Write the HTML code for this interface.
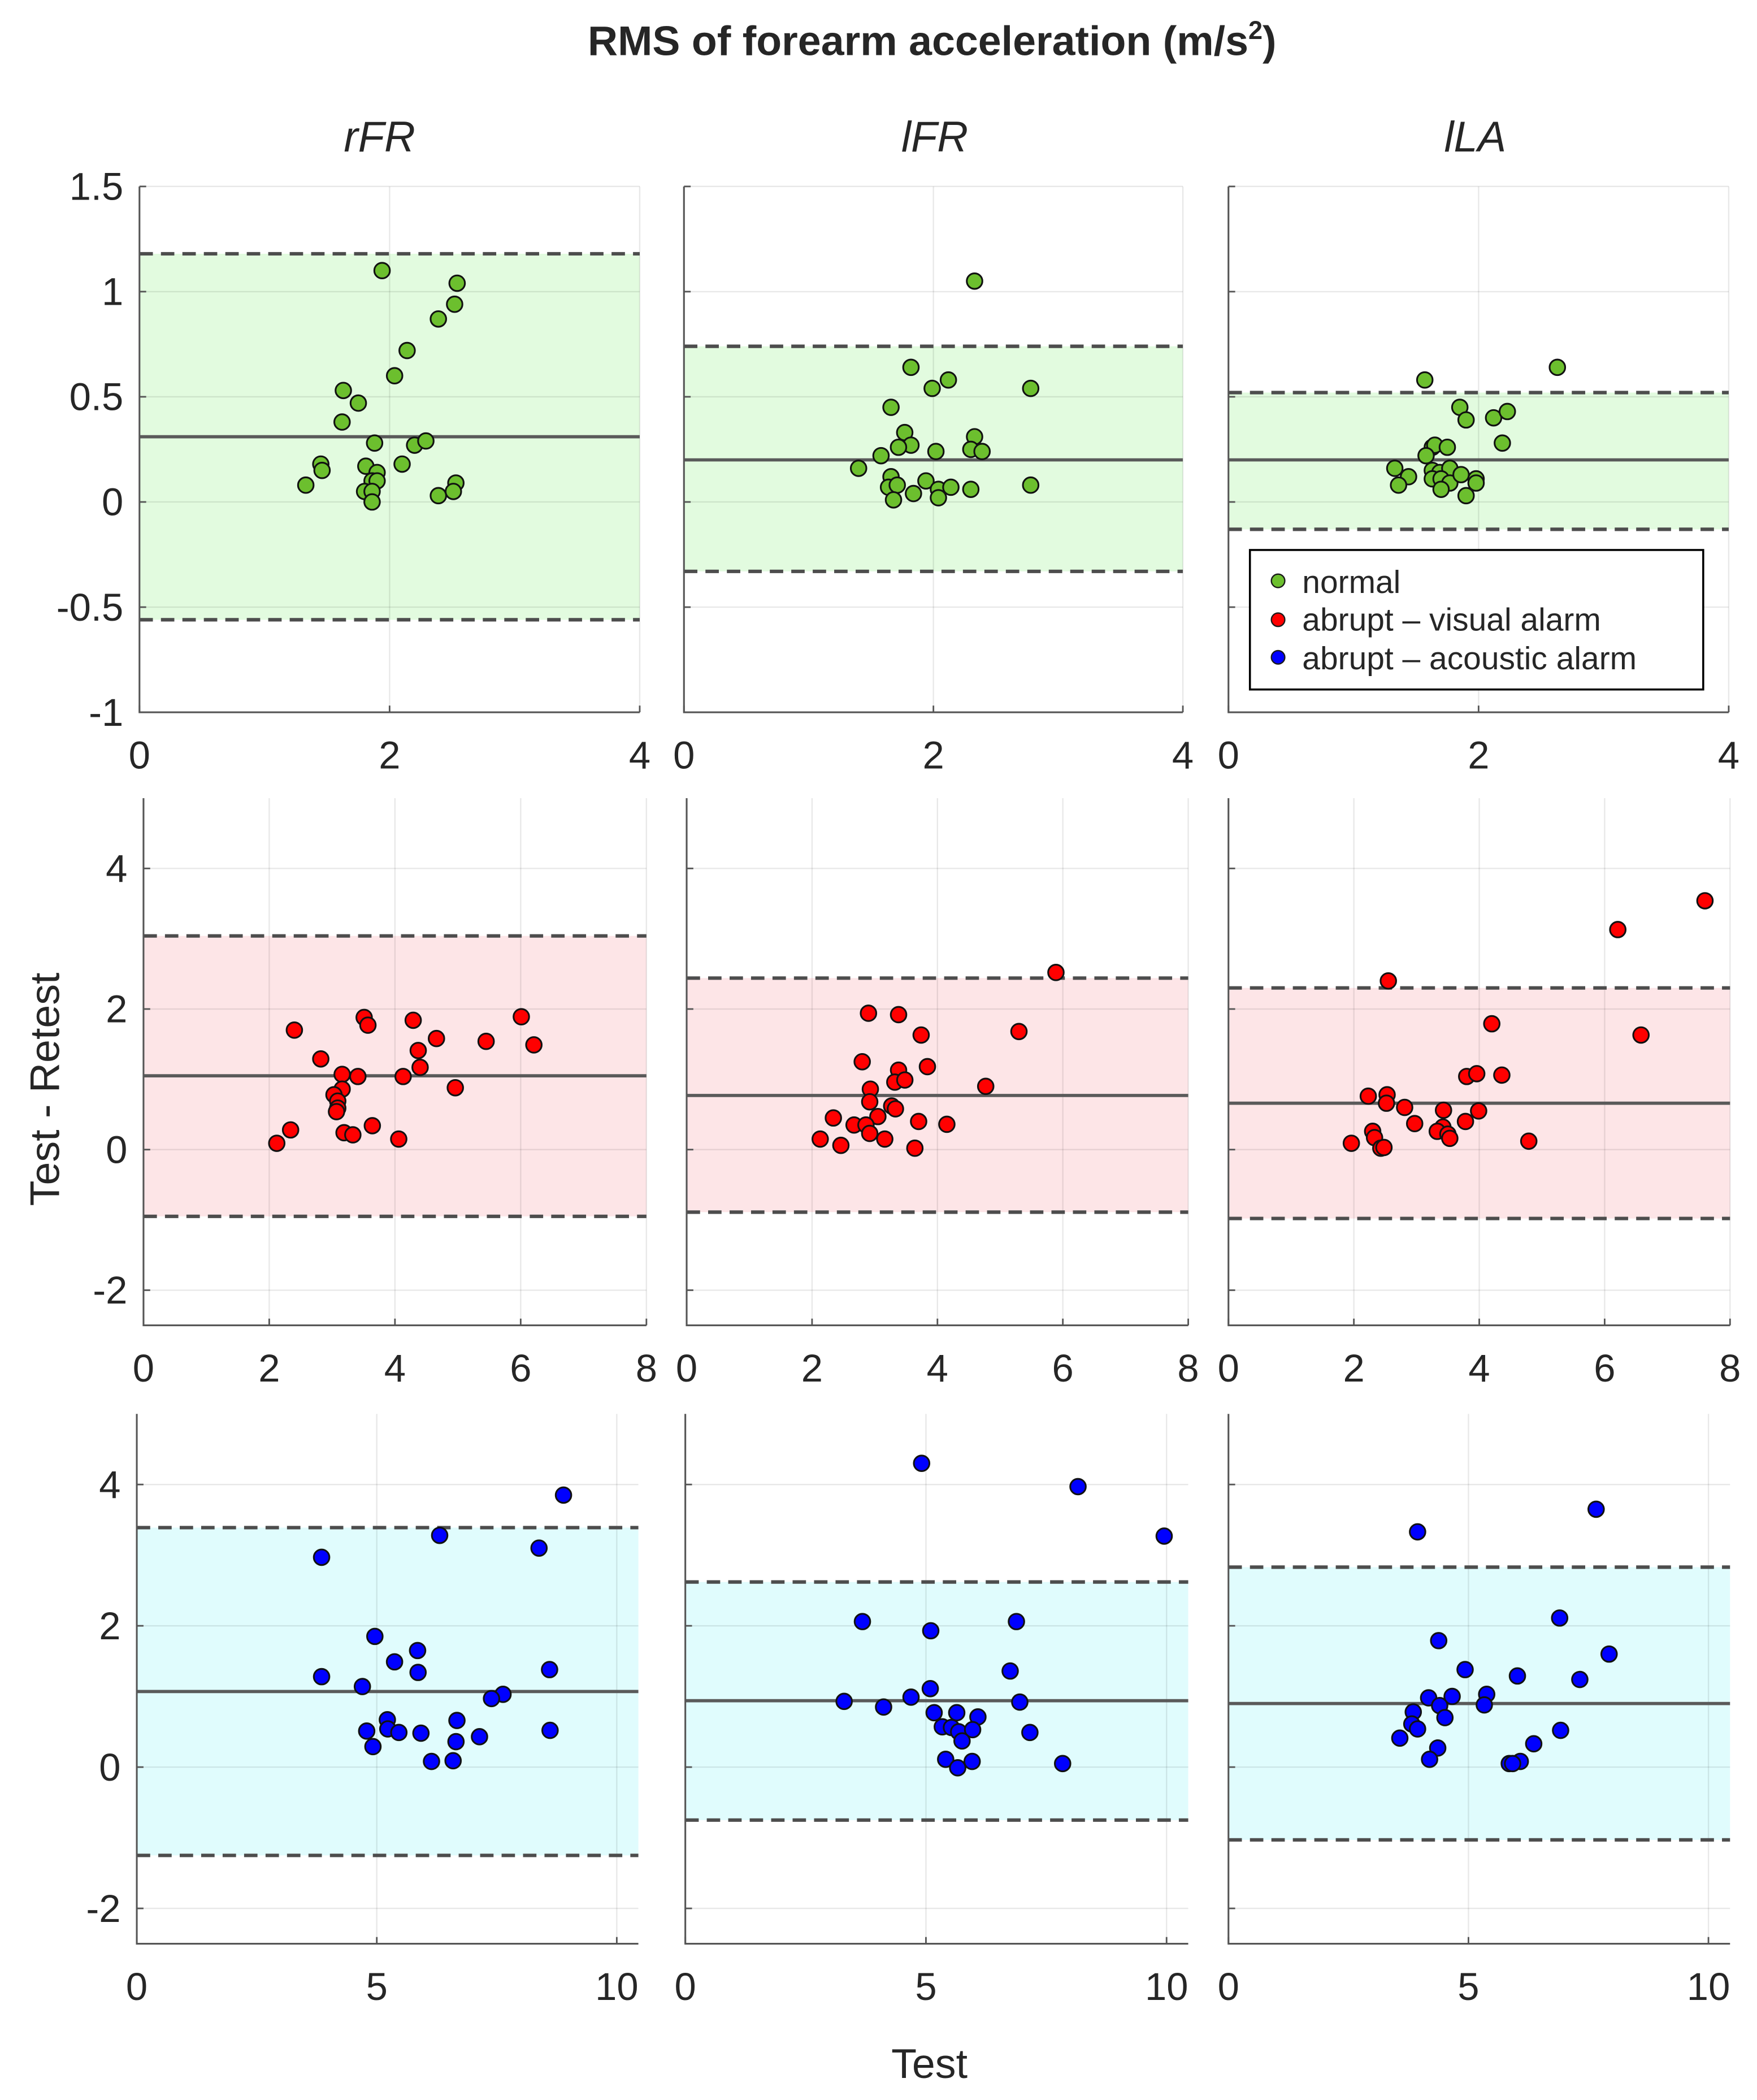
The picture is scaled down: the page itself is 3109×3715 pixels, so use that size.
<!DOCTYPE html>
<html><head><meta charset="utf-8"><style>
html,body{margin:0;padding:0;background:#fff;}
svg{display:block;}
text{font-family:"Liberation Sans",Arial,sans-serif;fill:#262626;}
</style></head>
<body>
<svg id="chart" xmlns="http://www.w3.org/2000/svg" width="3109" height="3715" viewBox="0 0 1310.1 1565.5" preserveAspectRatio="none">
<text x="695" y="41" text-anchor="middle" font-size="31" font-weight="bold" fill="#000">RMS of forearm acceleration (m/s<tspan font-size="19" dy="-12">2</tspan><tspan dy="12">)</tspan></text>
<text x="283" y="113" text-anchor="middle" font-size="32" font-style="italic">rFR</text>
<text x="697" y="113" text-anchor="middle" font-size="32" font-style="italic">lFR</text>
<text x="1100" y="113" text-anchor="middle" font-size="32" font-style="italic">lLA</text>
<text x="0" y="0" transform="translate(44,812) rotate(-90)" text-anchor="middle" font-size="31">Test - Retest</text>
<text x="693" y="1549" text-anchor="middle" font-size="31">Test</text>
<g id="panels"></g>
<g id="legend">
<rect x="932" y="410" width="338" height="104" fill="#fff" stroke="#000" stroke-width="1.5"/>
<circle cx="953" cy="433" r="5" fill="#6cbf2e" stroke="#1a1a1a" stroke-width="1"/>
<text x="971" y="442" font-size="24" fill="#000">normal</text>
<circle cx="953" cy="462" r="5" fill="#ff0000" stroke="#1a1a1a" stroke-width="1"/>
<text x="971" y="470" font-size="24" fill="#000">abrupt – visual alarm</text>
<circle cx="953" cy="490" r="5" fill="#0000ff" stroke="#1a1a1a" stroke-width="1"/>
<text x="971" y="499" font-size="24" fill="#000">abrupt – acoustic alarm</text>
</g>
</svg>
<script>
// ---- data ----
const p1x=[1.94,2.54,2.52,2.39,2.14,2.04,1.63,1.75,1.62,1.88,2.20,2.29,1.45,1.46,1.81,1.90,2.10,1.33,1.86,1.90,1.80,1.86,1.86,2.39,2.53,2.51];
const p1y=[1.10,1.04,0.94,0.87,0.72,0.60,0.53,0.47,0.38,0.28,0.27,0.29,0.18,0.15,0.17,0.14,0.18,0.08,0.10,0.10,0.05,0.05,0.00,0.03,0.09,0.05];
const p2x=[2.33,1.82,2.12,1.99,2.78,1.66,1.77,1.82,1.72,2.33,2.30,2.39,2.02,1.58,1.40,1.66,1.64,1.71,1.94,1.84,2.04,2.14,2.30,2.78,1.68,2.04];
const p2y=[1.05,0.64,0.58,0.54,0.54,0.45,0.33,0.27,0.26,0.31,0.25,0.24,0.24,0.22,0.16,0.12,0.07,0.08,0.10,0.04,0.06,0.07,0.06,0.08,0.01,0.02];
const p3x=[2.63,1.57,1.85,1.90,2.12,2.23,2.19,1.63,1.65,1.75,1.58,1.33,1.44,1.36,1.63,1.69,1.77,1.63,1.70,1.77,1.70,1.86,1.98,1.98,1.90];
const p3y=[0.64,0.58,0.45,0.39,0.40,0.43,0.28,0.26,0.27,0.26,0.22,0.16,0.12,0.08,0.15,0.14,0.16,0.11,0.11,0.09,0.06,0.13,0.11,0.09,0.03];
const p4x=[2.40,3.51,3.57,4.29,6.01,4.66,5.45,6.21,4.37,2.82,4.40,3.16,3.41,4.13,4.96,3.16,3.03,3.09,3.09,3.07,2.34,2.12,3.19,3.33,3.64,4.06];
const p4y=[1.70,1.88,1.77,1.84,1.89,1.58,1.54,1.49,1.41,1.29,1.17,1.07,1.04,1.04,0.88,0.86,0.78,0.69,0.59,0.54,0.28,0.09,0.24,0.21,0.34,0.15];
const p5x=[5.89,2.90,3.38,3.74,5.30,2.80,3.84,3.38,3.32,3.48,4.77,2.93,2.92,3.27,3.33,3.05,2.34,3.70,4.15,2.67,2.86,2.92,2.13,3.16,2.46,3.64];
const p5y=[2.52,1.94,1.92,1.63,1.68,1.25,1.18,1.13,0.96,0.99,0.90,0.86,0.68,0.62,0.58,0.47,0.45,0.40,0.36,0.35,0.35,0.23,0.15,0.15,0.06,0.02];
const p6x=[7.60,6.21,2.55,4.20,6.58,3.80,3.96,4.36,2.23,2.53,2.52,2.81,3.43,3.99,2.97,3.78,3.42,3.33,3.50,3.53,2.30,2.33,4.79,1.96,2.43,2.48];
const p6y=[3.54,3.13,2.40,1.79,1.63,1.04,1.08,1.06,0.76,0.78,0.66,0.60,0.56,0.55,0.37,0.40,0.32,0.26,0.22,0.16,0.26,0.17,0.12,0.09,0.02,0.03];
const p7x=[8.89,6.31,8.38,3.85,4.96,5.85,5.37,5.86,3.85,8.60,4.70,7.63,7.39,5.22,6.67,4.79,5.23,5.46,5.92,8.61,7.14,6.65,4.92,6.14,6.59];
const p7y=[3.85,3.28,3.10,2.97,1.85,1.65,1.49,1.34,1.28,1.38,1.14,1.03,0.97,0.67,0.66,0.51,0.54,0.49,0.48,0.52,0.43,0.36,0.29,0.08,0.09];
const p8x=[4.91,8.16,9.95,3.68,5.10,6.88,6.75,5.09,4.69,3.30,6.95,4.12,5.17,5.64,6.08,5.34,5.53,5.68,5.97,5.75,7.16,5.41,5.96,5.66,7.84];
const p8y=[4.30,3.97,3.27,2.06,1.93,2.06,1.36,1.11,0.99,0.93,0.92,0.85,0.77,0.77,0.71,0.57,0.56,0.50,0.53,0.37,0.49,0.11,0.08,-0.01,0.05];
const p9x=[7.66,3.94,6.90,4.38,7.93,4.93,6.02,7.32,4.17,4.66,5.38,4.40,5.33,3.85,4.51,3.82,3.94,6.92,3.57,6.36,4.36,4.19,6.08,5.85,5.92];
const p9y=[3.65,3.33,2.11,1.79,1.60,1.38,1.29,1.24,0.98,1.00,1.03,0.87,0.88,0.78,0.70,0.61,0.54,0.52,0.41,0.33,0.27,0.11,0.08,0.05,0.05];
const upperLimits=[1.18,0.74,0.52,3.04,2.44,2.30,3.39,2.62,2.83];
const meanLines=[0.31,0.20,0.20,1.05,0.77,0.66,1.07,0.94,0.90];
const lowerLimits=[-0.56,-0.33,-0.13,-0.95,-0.89,-0.98,-1.25,-0.75,-1.03];
const yTicksRow1=[-1,-0.5,0,0.5,1,1.5];
const yTickLabelsRow1=["-1","-0.5","0","0.5","1","1.5"];
const yTicksRow23=[-2,0,2,4];
const xTicksRow1=[0,2,4];
const xTicksRow2=[0,2,4,6,8];
const xTicksRow3=[0,5,10];

// ---- layout ----
const NS="http://www.w3.org/2000/svg";
const rows=[
 {top:139,bottom:531,ymin:-1,ymax:1.5,xmax:4,xt:xTicksRow1,yt:yTicksRow1,ylab:yTickLabelsRow1,lefts:[104,510,916],rights:[477,882,1289],color:"#6cbf2e",band:"#e2fbdf",name:"normal"},
 {top:595,bottom:988,ymin:-2.5,ymax:5,xmax:8,xt:xTicksRow2,yt:yTicksRow23,ylab:yTicksRow23.map(String),lefts:[107,512,916],rights:[482,886,1290],color:"#ff0000",band:"#fde5e7",name:"visual"},
 {top:1054,bottom:1449,ymin:-2.5,ymax:5,xmax:10.45,xt:xTicksRow3,yt:yTicksRow23,ylab:yTicksRow23.map(String),lefts:[102,511,916],rights:[476,886,1290],color:"#0000ff",band:"#e0fcfd",name:"acoustic"}
];
const cols=["rfr","lfr","lla"];
const xs=[p1x,p2x,p3x,p4x,p5x,p6x,p7x,p8x,p9x];
const ys=[p1y,p2y,p3y,p4y,p5y,p6y,p7y,p8y,p9y];
const root=document.getElementById('panels');
function mk(tag,attrs,parent){const e=document.createElementNS(NS,tag);for(const k in attrs)e.setAttribute(k,attrs[k]);parent.appendChild(e);return e;}

rows.forEach((r,ri)=>{
 cols.forEach((c,ci)=>{
  const idx=ri*3+ci;
  const L=r.lefts[ci],R=r.rights[ci],T=r.top,B=r.bottom;
  const sx=v=>L+(v-0)/(r.xmax)*(R-L);
  const sy=v=>B-(v-r.ymin)/(r.ymax-r.ymin)*(B-T);
  const g=mk('g',{},root);
  
  
  // band
  const band=mk('rect',{x:L,y:sy(upperLimits[idx]),width:R-L,height:sy(lowerLimits[idx])-sy(upperLimits[idx]),fill:r.band},g);
  
  
  // grid
  r.xt.forEach(t=>{if(t>0){const gl=mk('line',{x1:sx(t),x2:sx(t),y1:T,y2:B,stroke:'#000','stroke-opacity':0.09,'stroke-width':1},g);
   }});
  r.yt.forEach(t=>{const gl=mk('line',{x1:L,x2:R,y1:sy(t),y2:sy(t),stroke:'#000','stroke-opacity':0.09,'stroke-width':1},g);
   });
  // limit lines
  [upperLimits[idx],lowerLimits[idx]].forEach((v,k)=>{
   const ln=mk('line',{x1:L,x2:R,y1:sy(v),y2:sy(v),stroke:'#4d4d4d','stroke-width':2.6,'stroke-dasharray':'10,6'},g);
   
   
  });
  const ml=mk('line',{x1:L,x2:R,y1:sy(meanLines[idx]),y2:sy(meanLines[idx]),stroke:'#5a5a5a','stroke-width':2.4},g);
  
  
  // axes
  const ax=mk('path',{d:`M${L},${T}V${B}H${R}`,fill:'none',stroke:'#555','stroke-width':1.3},g);
  
  
  r.xt.forEach(t=>{
   mk('line',{x1:sx(t),x2:sx(t),y1:B,y2:B-5,stroke:'#555','stroke-width':1.2},g);
   const tx=mk('text',{x:sx(t),y:B+42,'text-anchor':'middle','font-size':29},g);
   tx.textContent=String(t);
   
   
  });
  r.yt.forEach((t,k)=>{
   mk('line',{x1:L,x2:L+5,y1:sy(t),y2:sy(t),stroke:'#555','stroke-width':1.2},g);
   if(ci===0){
    const ty=mk('text',{x:L-12,y:sy(t)+10,'text-anchor':'end','font-size':29},g);
    ty.textContent=r.ylab[k];
    
    
   }
  });
  // points
  xs[idx].forEach((xv,k)=>{
   const pt=mk('circle',{cx:sx(xv),cy:sy(ys[idx][k]),r:5.8,fill:r.color,stroke:'#111','stroke-width':1.3},g);
   
   
  });
 });
});
root.parentNode.appendChild(document.getElementById('legend'));
</script>
</body></html>
